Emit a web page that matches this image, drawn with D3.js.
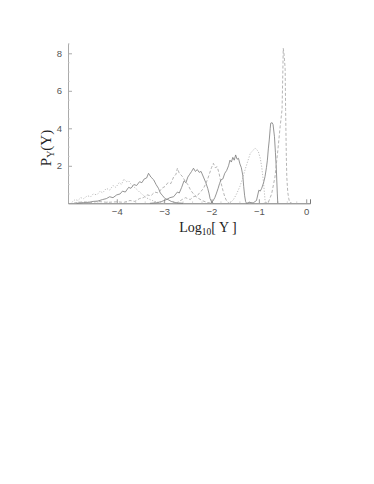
<!DOCTYPE html>
<html>
<head>
<meta charset="utf-8">
<script src="https://cdn.jsdelivr.net/npm/d3@7"></script>
<style>
  body { margin: 0; background: #fff; }
  svg { display: block; }
  .tick text { font-family: "Liberation Sans", Arial, sans-serif; font-size: 9.5px; fill: #555; }
</style>
</head>
<body>
<div id="chart"></div>
<script>
// curves: [log10 Y, P]
const curveA = [[-4.95,0.05],[-4.88,0.2],[-4.82,0.15],[-4.76,0.3],[-4.7,0.25],[-4.62,0.4],[-4.55,0.35],[-4.5,0.5],[-4.42,0.45],[-4.35,0.65],[-4.3,0.55],[-4.22,0.8],[-4.15,0.7],[-4.08,0.95],[-4.02,0.85],[-3.95,1.1],[-3.9,1.0],[-3.85,1.3],[-3.8,1.15],[-3.75,1.2],[-3.68,0.95],[-3.6,0.8],[-3.52,0.6],[-3.45,0.45],[-3.38,0.3],[-3.3,0.2],[-3.2,0.1],[-3.1,0.04],[-3.0,0.0]];
const curveB = [[-4.85,0.0],[-4.7,0.04],[-4.6,0.05],[-4.5,0.1],[-4.4,0.12],[-4.3,0.2],[-4.22,0.25],[-4.15,0.35],[-4.08,0.3],[-4.0,0.45],[-3.93,0.5],[-3.88,0.65],[-3.82,0.6],[-3.75,0.85],[-3.7,0.8],[-3.64,1.0],[-3.58,0.95],[-3.52,1.15],[-3.47,1.1],[-3.42,1.3],[-3.37,1.35],[-3.33,1.6],[-3.28,1.4],[-3.22,1.25],[-3.17,1.0],[-3.12,0.8],[-3.08,0.55],[-3.03,0.4],[-2.98,0.25],[-2.92,0.2],[-2.85,0.1],[-2.75,0.03],[-2.6,0.0]];
const curveC = [[-4.9,0.02],[-4.7,0.08],[-4.55,0.04],[-4.4,0.1],[-4.2,0.05],[-4.0,0.08],[-3.85,0.05],[-3.72,0.15],[-3.62,0.1],[-3.52,0.25],[-3.44,0.3],[-3.36,0.45],[-3.28,0.4],[-3.2,0.6],[-3.12,0.55],[-3.05,0.8],[-2.98,0.9],[-2.92,1.1],[-2.86,1.05],[-2.8,1.4],[-2.75,1.55],[-2.72,1.87],[-2.68,1.6],[-2.62,1.45],[-2.56,1.2],[-2.5,1.0],[-2.44,0.7],[-2.38,0.5],[-2.3,0.3],[-2.2,0.15],[-2.1,0.05],[-2.0,0.0]];
const curveD = [[-3.3,0.0],[-3.15,0.03],[-3.05,0.1],[-2.95,0.2],[-2.88,0.3],[-2.8,0.35],[-2.72,0.6],[-2.68,0.55],[-2.63,0.85],[-2.58,1.2],[-2.54,1.1],[-2.5,1.4],[-2.46,1.55],[-2.42,1.7],[-2.38,1.87],[-2.34,1.7],[-2.3,1.8],[-2.26,1.65],[-2.22,1.7],[-2.17,1.4],[-2.12,1.1],[-2.08,0.8],[-2.05,0.5],[-2.03,0.25],[-2.0,0.08],[-1.96,0.0]];
const curveE = [[-2.75,0.0],[-2.62,0.2],[-2.55,0.3],[-2.45,0.2],[-2.38,0.35],[-2.3,0.4],[-2.24,0.6],[-2.18,0.75],[-2.12,1.05],[-2.08,1.3],[-2.04,1.6],[-2.0,1.9],[-1.96,2.13],[-1.92,1.9],[-1.88,1.95],[-1.84,1.6],[-1.8,1.1],[-1.76,0.7],[-1.72,0.35],[-1.68,0.12],[-1.63,0.0]];
const curveF = [[-2.02,0.0],[-1.97,0.12],[-1.93,0.3],[-1.9,0.5],[-1.86,0.8],[-1.83,1.05],[-1.8,1.25],[-1.76,1.3],[-1.72,1.6],[-1.68,1.75],[-1.64,2.0],[-1.61,2.3],[-1.58,2.2],[-1.55,2.45],[-1.52,2.3],[-1.49,2.58],[-1.46,2.35],[-1.43,2.4],[-1.4,2.1],[-1.37,1.9],[-1.34,1.5],[-1.32,0.9],[-1.3,0.4],[-1.28,0.1],[-1.26,0.0]];
const curveG = [[-1.62,0.0],[-1.54,0.18],[-1.47,0.5],[-1.4,0.9],[-1.34,1.35],[-1.29,1.8],[-1.24,2.2],[-1.18,2.67],[-1.13,2.8],[-1.08,2.95],[-1.04,2.85],[-1.01,2.75],[-0.97,2.4],[-0.94,1.95],[-0.9,1.07],[-0.87,0.18],[-0.84,0.0]];
const curveH = [[-1.26,0.0],[-1.2,0.05],[-1.12,0.02],[-1.05,0.15],[-1.0,0.7],[-0.97,0.65],[-0.94,0.8],[-0.9,1.1],[-0.87,1.42],[-0.84,1.9],[-0.82,2.3],[-0.8,2.9],[-0.78,3.38],[-0.76,4.0],[-0.75,4.27],[-0.72,4.3],[-0.7,4.2],[-0.67,3.55],[-0.65,2.7],[-0.63,1.78],[-0.61,0.5],[-0.6,0.0]];
const curveI = [[-0.9,0.0],[-0.8,0.05],[-0.73,0.5],[-0.66,1.4],[-0.6,2.8],[-0.55,4.1],[-0.51,5.0],[-0.495,6.8],[-0.485,8.27],[-0.47,8.0],[-0.445,7.2],[-0.435,5.0],[-0.42,2.5],[-0.41,1.4],[-0.39,0.6],[-0.37,0.27],[-0.35,0.05],[-0.3,0.0]];

const xTicks = [-4, -3, -2, -1, 0];
const yTicks = [2, 4, 6, 8];

const curves = [
  {data: curveA, style: "dot"},
  {data: curveB, style: "solid"},
  {data: curveC, style: "dash"},
  {data: curveD, style: "solid"},
  {data: curveE, style: "dash"},
  {data: curveF, style: "solid"},
  {data: curveG, style: "dot"},
  {data: curveH, style: "solid"},
  {data: curveI, style: "dash"}
];
const styles = {
  solid: {stroke: "#7a7a7a", dash: null},
  dash: {stroke: "#a2a2a2", dash: "3,2"},
  dot: {stroke: "#adadad", dash: "1.2,1.6"}
};

const W = 374, H = 484;
const svg = d3.select("#chart").append("svg").attr("width", W).attr("height", H);

const x = d3.scaleLinear().domain([-5.03, 0.08]).range([68, 310]);
const y = d3.scaleLinear().domain([0, 8.55]).range([203.3, 43]);

// axes (Mathematica style: ticks point inward)
const xAxis = svg.append("g").attr("transform", `translate(0,${y(0)})`)
  .call(d3.axisBottom(x).tickValues(xTicks).tickSize(-4).tickPadding(5).tickFormat(d => d === 0 ? "0" : "\u2212" + Math.abs(d)));
xAxis.select(".domain").attr("stroke", "#777");
xAxis.selectAll(".tick line").attr("stroke", "#999");

const xMinor = d3.range(-50, 1).map(d => d / 10).filter(d => Math.abs(d - Math.round(d)) > 1e-6 && Math.round(d * 10) % 2 === 0);
svg.append("g").selectAll("line").data(xMinor).join("line")
  .attr("x1", d => x(d)).attr("x2", d => x(d))
  .attr("y1", y(0)).attr("y2", y(0) - 2)
  .attr("stroke", "#bbb").attr("stroke-width", 0.6);

const yAxis = svg.append("g").attr("transform", `translate(${x.range()[0]},0)`)
  .call(d3.axisLeft(y).tickValues(yTicks).tickSize(-4).tickPadding(6).tickSizeOuter(0));
yAxis.select(".domain").attr("stroke", "#aaa");
yAxis.selectAll(".tick line").attr("stroke", "#aaa");

const yMinor = d3.range(1, 18).map(d => d / 2).filter(d => d % 2 !== 0);
svg.append("g").selectAll("line").data(yMinor).join("line")
  .attr("x1", x.range()[0]).attr("x2", x.range()[0] + 2)
  .attr("y1", d => y(d)).attr("y2", d => y(d))
  .attr("stroke", "#ccc").attr("stroke-width", 0.6);

// curves
const line = d3.line().x(d => x(d[0])).y(d => y(d[1]));
svg.append("g").selectAll("path").data(curves).join("path")
  .attr("d", d => line(d.data))
  .attr("fill", "none")
  .attr("stroke", d => styles[d.style].stroke)
  .attr("stroke-width", 0.8)
  .attr("stroke-dasharray", d => styles[d.style].dash);

// axis labels
const serif = "'Liberation Serif', 'Times New Roman', serif";
const yl = svg.append("text")
  .attr("transform", "translate(51,148) rotate(-90)")
  .attr("text-anchor", "middle")
  .attr("font-family", serif).attr("font-size", 15).attr("fill", "#222");
yl.append("tspan").text("P");
yl.append("tspan").attr("font-size", 10).attr("dy", 3).text("Y");
yl.append("tspan").attr("dy", -3).text("(Y)");

const xl = svg.append("text")
  .attr("x", 208).attr("y", 232)
  .attr("text-anchor", "middle")
  .attr("font-family", serif).attr("font-size", 14).attr("fill", "#222");
xl.append("tspan").text("Log");
xl.append("tspan").attr("font-size", 9.5).attr("dy", 3).text("10");
xl.append("tspan").attr("dy", -3).text("[ Y ]");
</script>
</body>
</html>
